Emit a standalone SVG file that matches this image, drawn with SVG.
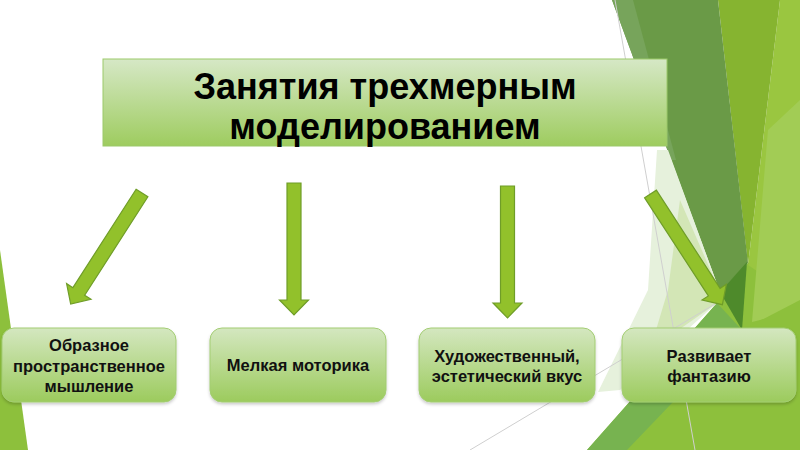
<svg xmlns="http://www.w3.org/2000/svg" width="800" height="450" viewBox="0 0 800 450">
<defs>
<style>
.title{font-family:"Liberation Sans",Arial,sans-serif;font-weight:bold;font-size:36px;fill:#000;text-anchor:middle}
.lbl{font-family:"Liberation Sans",Arial,sans-serif;font-weight:bold;font-size:16.5px;fill:#111;text-anchor:middle}
.box{fill:url(#gBox);stroke:#a3cd73;stroke-width:1;filter:url(#sh)}
.tbox{fill:url(#gTitle);stroke:#9cc96a;stroke-width:1}
.arrow{fill:#92c12b;stroke:#6f9d28;stroke-width:1.2;stroke-linejoin:miter}
.gl{stroke:#cfcfcf;stroke-width:1;fill:none}
</style>
<linearGradient id="gTitle" x1="0" y1="0" x2="0" y2="1">
<stop offset="0" stop-color="#d6e8c6"/>
<stop offset="1" stop-color="#9ecc5f"/>
</linearGradient>
<linearGradient id="gBox" x1="0" y1="0" x2="0" y2="1">
<stop offset="0" stop-color="#d4e7c0"/>
<stop offset="1" stop-color="#9ccb5d"/>
</linearGradient>
<filter id="sh" x="-10%" y="-10%" width="120%" height="130%">
<feDropShadow dx="0" dy="2" stdDeviation="1.5" flood-color="#000" flood-opacity="0.2"/>
</filter>
<polygon id="arr" points="-7,0 7,0 7,117 14.5,117 0,132 -14.5,117 -7,117"/>
</defs>
<rect width="800" height="450" fill="#ffffff"/>
<g id="background">
<polygon points="0,250 28,450 0,450" fill="#8dc03c"/>
<polygon points="717,303 748,263 800,240 800,450 587,450" fill="#8dc03c"/>
<polygon points="780,0 800,0 800,300 748,265" fill="#9ac640"/>
<polygon points="768,130 800,100 800,310 752,322" fill="#a2cc55"/>
<polygon points="718,0 780,0 748,265" fill="#86b430"/>
<polygon points="612,0 718,0 748,263 720,292" fill="#6a9a47"/>
<polygon points="612,0 633,0 676,160 671,160" fill="#77a45b"/>
<polygon points="747,262 720,292 742,330" fill="#4e8a2b"/>
<polygon points="657,150 668,150 720,292 717,303 620,390 598,392 648,290" fill="#e6f1dc"/>
<polygon points="680,200 720,292 717,303 650,350 668,290" fill="#d3e6b6"/>
<polygon points="587,450 717,303 742,330 640,450" fill="#77b350"/>
<polygon points="627,450 742,330 800,300 800,450" fill="#8dc03c"/>
<line class="gl" x1="615" y1="0" x2="695" y2="450"/>
<line class="gl" x1="470" y1="450" x2="720" y2="301"/>
</g>
<g id="connectors">
<use href="#arr" class="arrow" transform="translate(142,193) rotate(32.7)"/>
<use href="#arr" class="arrow" transform="translate(294,183)"/>
<use href="#arr" class="arrow" transform="translate(507.5,186)"/>
<use href="#arr" class="arrow" transform="translate(650.5,194) rotate(-33)"/>
</g>
<g id="title">
<rect class="tbox" x="103" y="59" width="564" height="87"/>
<text class="title" x="385" y="99">Занятия трехмерным</text>
<text class="title" x="385" y="139">моделированием</text>
</g>
<g id="node1">
<rect class="box" x="2" y="328" width="174" height="74" rx="12"/>
<text class="lbl" x="89" y="351">Образное</text>
<text class="lbl" x="89" y="372">пространственное</text>
<text class="lbl" x="89" y="392">мышление</text>
</g>
<g id="node2">
<rect class="box" x="210" y="328" width="176" height="74" rx="12"/>
<text class="lbl" x="298" y="371">Мелкая моторика</text>
</g>
<g id="node3">
<rect class="box" x="419" y="328" width="176" height="74" rx="12"/>
<text class="lbl" x="507" y="362">Художественный,</text>
<text class="lbl" x="507" y="382">эстетический вкус</text>
</g>
<g id="node4">
<rect class="box" x="622" y="328" width="174" height="74" rx="12"/>
<text class="lbl" x="709" y="362">Развивает</text>
<text class="lbl" x="709" y="382">фантазию</text>
</g>
</svg>
